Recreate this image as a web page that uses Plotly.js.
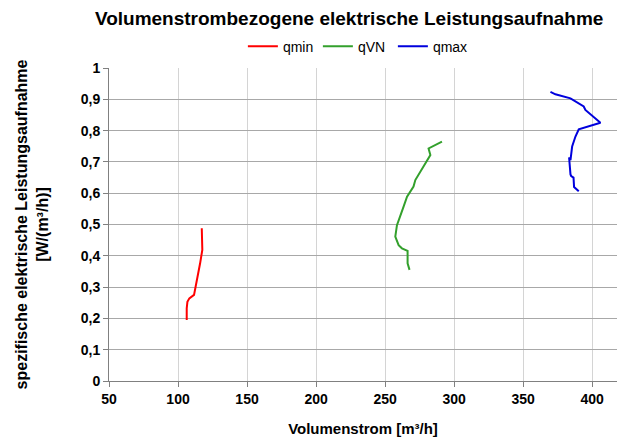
<!DOCTYPE html>
<html>
<head>
<meta charset="utf-8">
<script src="https://cdn.plot.ly/plotly-3.0.1.min.js"></script>
<style>html,body{margin:0;padding:0;background:#fff}#chart{width:618px;height:437px}</style>
</head>
<body>
<div id="chart"></div>
<script>
const qminX = [117.2, 117.9, 117.6, 116.0, 114.0, 111.6, 108.2, 106.8, 106.3, 106.3, 106.3];
const qminY = [0.488, 0.435, 0.419, 0.376, 0.333, 0.275, 0.264, 0.253, 0.232, 0.216, 0.195];

const qVNX = [291.2, 281.5, 282.8, 279.1, 275.5, 271.9, 270.6, 268.3, 265.9, 263.4, 261.0, 258.6, 257.4, 259.8, 262.2, 266.3, 266.3, 267.7];
const qVNY = [0.765, 0.743, 0.722, 0.695, 0.669, 0.642, 0.621, 0.605, 0.589, 0.557, 0.530, 0.498, 0.461, 0.434, 0.424, 0.416, 0.376, 0.355];

const qmaxX = [369.8, 373.4, 384.3, 390.3, 393.9, 395.1, 400.0, 406.0, 390.3, 387.9, 385.5, 384.3, 383.3, 383.6, 384.3, 384.8, 386.5, 386.9, 390.3];
const qmaxY = [0.924, 0.916, 0.903, 0.887, 0.877, 0.866, 0.847, 0.825, 0.804, 0.781, 0.749, 0.706, 0.714, 0.685, 0.660, 0.655, 0.650, 0.620, 0.606];

const F = 'Liberation Sans, Arial, sans-serif';
const traces = [
  {x: qminX, y: qminY, name: 'qmin', mode: 'lines', line: {color: '#ff0000', width: 2}},
  {x: qVNX, y: qVNY, name: 'qVN', mode: 'lines', line: {color: '#33a02c', width: 2}},
  {x: qmaxX, y: qmaxY, name: 'qmax', mode: 'lines', line: {color: '#0000dd', width: 2}}
];
const layout = {
  width: 618, height: 437,
  margin: {l: 109, r: 1, t: 68, b: 56},
  paper_bgcolor: '#fff', plot_bgcolor: '#fff',
  separators: ',.',
  font: {family: F, color: '#000', size: 14},
  title: {text: '<b>Volumenstrombezogene elektrische Leistungsaufnahme</b>', font: {size: 19, family: F}, x: 0.565, xanchor: 'center', y: 0.958, yanchor: 'middle'},
  showlegend: true,
  legend: {orientation: 'h', x: 0.485, xanchor: 'center', y: 1.068, yanchor: 'middle', font: {size: 14, family: F}, itemwidth: 30, entrywidth: 30, tracegroupgap: 0, bgcolor: 'rgba(0,0,0,0)'},
  xaxis: {
    range: [50, 418], dtick: 50, tick0: 50,
    showgrid: true, gridcolor: '#d4d4d4', gridwidth: 1,
    zeroline: false, showline: true, linecolor: '#808080', linewidth: 1,
    ticks: 'outside', ticklen: 5, tickcolor: '#808080',
    tickfont: {size: 14, family: F}, tickprefix: '<b>', ticksuffix: '</b>',
    title: {text: '<b>Volumenstrom [m³/h]</b>', font: {size: 15, family: F}, standoff: 20}
  },
  yaxis: {
    range: [0, 1], dtick: 0.1, tick0: 0,
    showgrid: true, gridcolor: '#a8a8a8', gridwidth: 1,
    zeroline: false, showline: true, linecolor: '#808080', linewidth: 1,
    ticks: 'outside', ticklen: 5, tickcolor: '#808080',
    tickfont: {size: 14, family: F}, tickprefix: '<b>', ticksuffix: '</b>',
    title: {text: '<b>spezifische elektrische Leistungsaufnahme<br>[W/(m³/h)]</b>', font: {size: 16, family: F}, standoff: 28}
  }
};
Plotly.newPlot('chart', traces, layout, {staticPlot: true, displayModeBar: false});
</script>
</body>
</html>
